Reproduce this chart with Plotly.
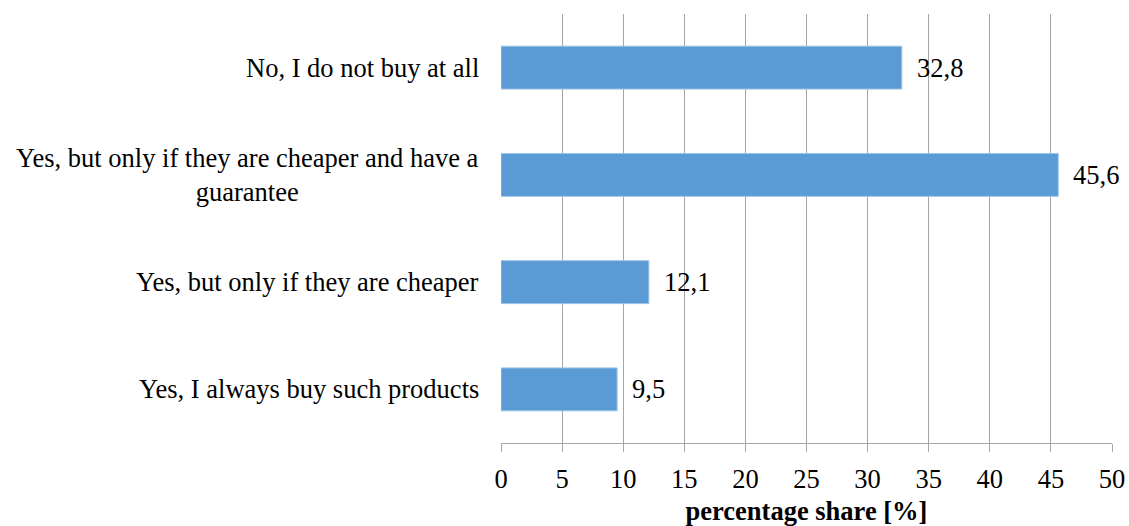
import plotly.graph_objects as go

categories = [
    "No, I do not buy at all",
    "Yes, but only if they are cheaper and have a<br>guarantee",
    "Yes, but only if they are cheaper",
    "Yes, I always buy such products",
]
shares = [32.8, 45.6, 12.1, 9.5]
value_labels = ["32,8", "45,6", "12,1", "9,5"]
x_ticks = [0, 5, 10, 15, 20, 25, 30, 35, 40, 45, 50]

FONT = "Times New Roman"
GRID = "#A6A6A6"
SIZE = 26.5

fig = go.Figure()
fig.add_trace(go.Bar(
    x=shares,
    y=categories,
    orientation="h",
    width=0.4,
    marker=dict(color="#5B9BD5", line=dict(color="#9DC3E6", width=1)),
    hoverinfo="skip",
))

annotations = []
for cat, val, lab in zip(categories, shares, value_labels):
    annotations.append(dict(
        x=val, y=cat, xref="x", yref="y", text=lab, showarrow=False,
        xanchor="left", yanchor="middle", xshift=13,
        font=dict(family=FONT, size=SIZE, color="#000000"),
    ))
    annotations.append(dict(
        x=0, y=cat, xref="paper", yref="y", text=cat, showarrow=False,
        xanchor="right", yanchor="middle", xshift=-20, align="center",
        font=dict(family=FONT, size=SIZE, color="#000000"),
    ))

fig.update_layout(
    width=1129, height=526,
    margin=dict(l=501, r=17, t=14, b=83, autoexpand=False),
    paper_bgcolor="white", plot_bgcolor="white",
    showlegend=False,
    bargap=0.6,
    annotations=annotations,
    font=dict(family=FONT),
    xaxis=dict(
        range=[0, 50], tickvals=x_ticks, ticktext=[str(t) for t in x_ticks],
        showgrid=True, gridcolor=GRID, gridwidth=1,
        showline=True, linecolor=GRID, linewidth=1,
        ticks="outside", ticklen=8, tickcolor=GRID,
        ticklabelstandoff=4,
        zeroline=False, automargin=False,
        tickfont=dict(family=FONT, size=SIZE, color="#000000"),
        title=dict(text="<b>percentage share [%]</b>", standoff=10,
                   font=dict(family=FONT, size=SIZE, color="#000000")),
        fixedrange=True,
    ),
    yaxis=dict(
        autorange="reversed", showticklabels=False, showgrid=False,
        zeroline=False, showline=False, ticks="", fixedrange=True,
        automargin=False,
    ),
)

fig.write_html("out.html")
